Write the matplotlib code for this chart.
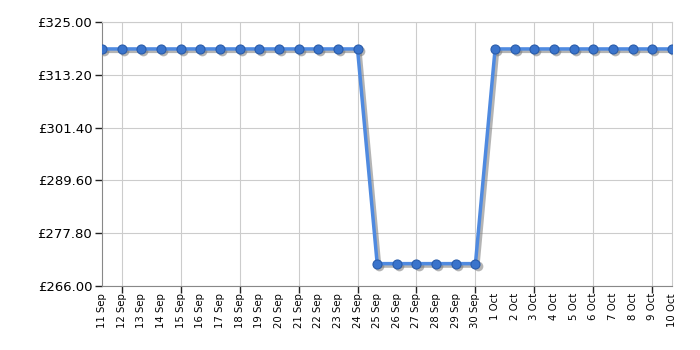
import matplotlib.pyplot as plt
import matplotlib.transforms as mtransforms
import numpy as np

# dates and prices
dates = ['11 Sep', '12 Sep', '13 Sep', '14 Sep', '15 Sep', '16 Sep', '17 Sep', '18 Sep',
         '19 Sep', '20 Sep', '21 Sep', '22 Sep', '23 Sep', '24 Sep', '25 Sep', '26 Sep',
         '27 Sep', '28 Sep', '29 Sep', '30 Sep', '1 Oct', '2 Oct', '3 Oct', '4 Oct',
         '5 Oct', '6 Oct', '7 Oct', '8 Oct', '9 Oct', '10 Oct']
prices = [318.99] * 14 + [270.99] * 6 + [318.99] * 10
y_ticks = [266.00, 277.80, 289.60, 301.40, 313.20, 325.00]

fig = plt.figure(figsize=(7, 3.5), dpi=100)
ax = fig.add_axes([0.1457, 0.183, 0.8143, 0.754])

x = np.arange(len(dates))

# drop shadow under the line
shadow = ax.transData + mtransforms.ScaledTranslation(1.5 / 72, -1.5 / 72, fig.dpi_scale_trans)
ax.plot(x, prices, color='#777777', lw=3, alpha=0.55, zorder=2, transform=shadow)
ax.plot(x, prices, lw=0, marker='o', ms=7, mfc='#777777', mec='none', alpha=0.55,
        zorder=2, transform=shadow)

ax.plot(x, prices, color='#4f8ae0', lw=2.5, marker='o', ms=6.5,
        mfc='#3a74cc', mec='#2a5caa', mew=0.8, zorder=3)

ax.set_xlim(0, len(dates) - 1)
ax.set_ylim(266, 325)
ax.set_yticks(y_ticks)
ax.set_yticklabels(['£%.2f' % v for v in y_ticks], fontsize=9.5)
ax.tick_params(axis='y', length=5, width=1, color='#222222', pad=2)

# every date labelled, tick marks + grid only every third day
ax.xaxis.remove_overlapping_locs = False
ax.set_xticks(x)
ax.set_xticklabels(dates, rotation=90, fontsize=7.3)
ax.tick_params(axis='x', which='major', length=0, pad=5)
ax.set_xticks(x[1::3], minor=True)
ax.tick_params(axis='x', which='minor', length=5, width=1, color='#222222')

ax.grid(axis='y', color='#cccccc', lw=0.8)
ax.grid(axis='x', which='minor', color='#cccccc', lw=0.8)
ax.set_axisbelow(True)

for s in ['top', 'right']:
    ax.spines[s].set_color('#cccccc')
for s in ['left', 'bottom']:
    ax.spines[s].set_color('#888888')

fig.savefig('out.png', dpi=100)
